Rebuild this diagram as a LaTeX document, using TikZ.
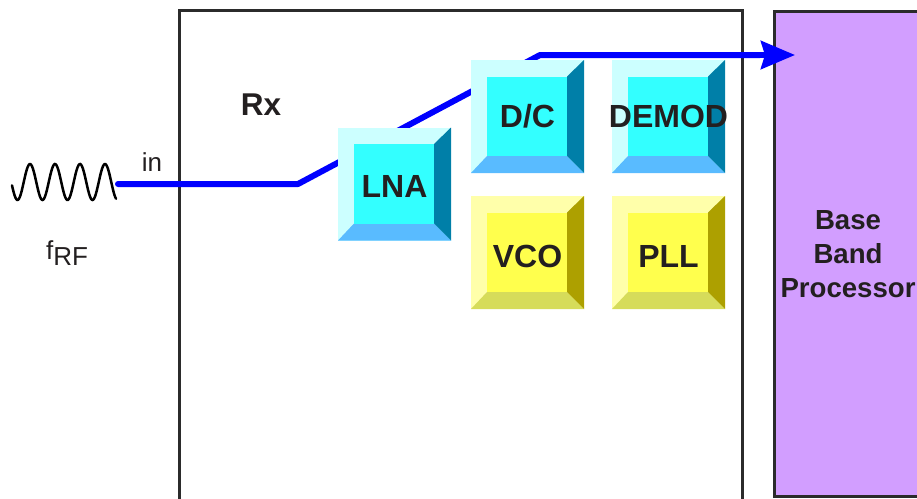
\documentclass[tikz,border=0pt]{standalone}
\usepackage{fontspec}
\setmainfont{Liberation Sans}
\usetikzlibrary{arrows.meta}
\definecolor{inkgray}{HTML}{231F20}
\definecolor{edgegray}{HTML}{2B2B2B}
\definecolor{wireblue}{HTML}{0000FF}
\definecolor{bbviolet}{HTML}{D29EFF}
\definecolor{cyantop}{HTML}{CCFFFF}
\definecolor{cyanmid}{HTML}{33FFFF}
\definecolor{cyanlow}{HTML}{59BBFF}
\definecolor{cyanside}{HTML}{007FA8}
\definecolor{yelltop}{HTML}{FFFFAA}
\definecolor{yellmid}{HTML}{FFFF4D}
\definecolor{yelllow}{HTML}{D6DC5A}
\definecolor{yellside}{HTML}{ADA000}
\tikzset{
  bevelbox/.style n args={4}{minimum size=113pt,inner ysep=0pt,inner xsep=-5pt,text=inkgray,
    font=\fontsize{32}{32}\selectfont\bfseries,
    path picture={
      \coordinate (nw) at (path picture bounding box.north west);
      \coordinate (ne) at (path picture bounding box.north east);
      \coordinate (se) at (path picture bounding box.south east);
      \coordinate (sw) at (path picture bounding box.south west);
      \coordinate (inw) at ([shift={(16pt,-16.5pt)}]nw);
      \coordinate (ine) at ([shift={(-17pt,-16.5pt)}]ne);
      \coordinate (ise) at ([shift={(-17pt,17pt)}]se);
      \coordinate (isw) at ([shift={(16pt,17pt)}]sw);
      \fill[#1] (nw) -- (ne) -- (se) -- (sw) -- cycle;
      \fill[#3] (sw) -- (isw) -- (ise) -- (se) -- cycle;
      \fill[#4] (ne) -- (ine) -- (ise) -- (se) -- cycle;
      \fill[#2] (inw) -- (ine) -- (ise) -- (isw) -- cycle;
    }},
  cyanbox/.style={bevelbox={cyantop}{cyanmid}{cyanlow}{cyanside}},
  yellbox/.style={bevelbox={yelltop}{yellmid}{yelllow}{yellside}},
  wire/.style={wireblue,line width=6pt,line cap=round,line join=round},
  plainlabel/.style={text=inkgray,inner sep=0pt,font=\fontsize{26}{26}\selectfont},
}
\begin{document}
\begin{tikzpicture}[x=1pt,y=-1pt]
    \useasboundingbox (0,0) rectangle (917,498);
    % Enclosures
    \draw[edgegray,line width=3pt] (179,503) -- (179,10) -- (742,10) -- (742,503);
    \node[draw=edgegray,fill=bbviolet,line width=3pt,minimum width=148pt,minimum height=485pt,
      inner sep=0pt,align=center,text=inkgray,font=\fontsize{27.6}{34}\selectfont\bfseries]
      (bbproc) at (848,254) {Base\\Band\\Processor};
    \node[text=inkgray,inner sep=0pt,font=\fontsize{31.5}{32}\selectfont\bfseries] (rxlabel) at (261,105) {Rx};
    % Signal path
    \coordinate (rfin) at (118,184);
    \coordinate (lowbend) at (298,184);
    \coordinate (highbend) at (540,55);
    \coordinate (bbin) at (795,55);
    \draw[wire] (rfin) -- (lowbend) -- (highbend) -- (760,55);
    \draw[wireblue,line width=6pt,-{Stealth[length=34pt,width=28pt,inset=4pt]}] (highbend) -- (bbin);
    % Source
    \draw[black,line width=2.5pt,line cap=round] plot[domain=12:116,samples=120] (\x,{182-18*cos(14.4*(\x-30))});
    \node[plainlabel] (inlabel) at (152,162) {in};
    \node[plainlabel] (frf) at (67,253) {f\raisebox{-6pt}{RF}};
    % Blocks
    \node[cyanbox,text height=26pt] (lna) at (394.5,184) {LNA};
    \node[cyanbox] (dc) at (527.5,116.5) {D/C};
    \node[cyanbox] (demod) at (668.5,116.5) {DEMOD};
    \node[yellbox,text height=30pt] (vco) at (527.5,252.5) {VCO};
    \node[yellbox,text height=30pt] (pll) at (668.5,252.5) {PLL};
\end{tikzpicture}
\end{document}
